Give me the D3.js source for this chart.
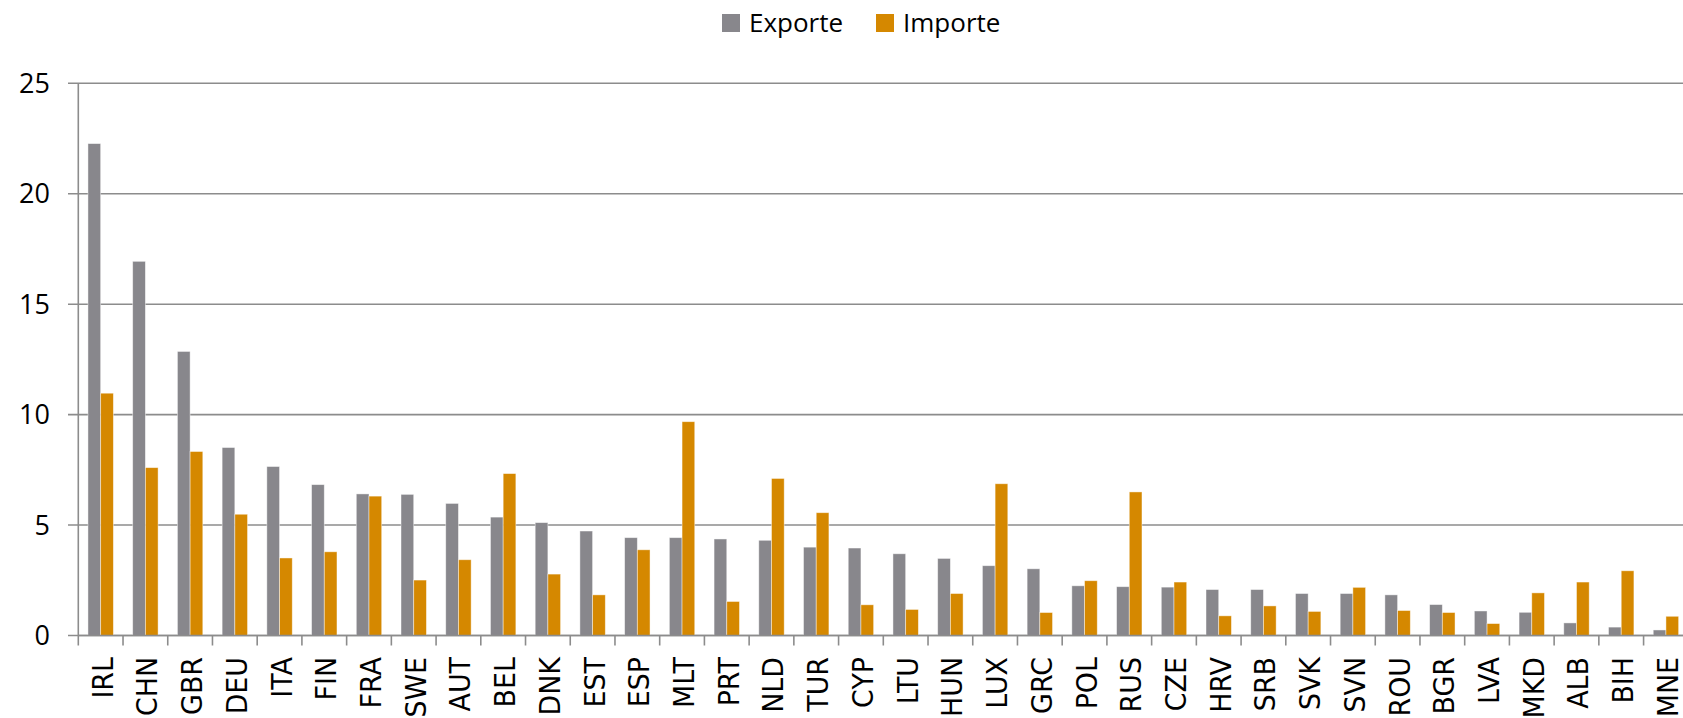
<!DOCTYPE html>
<html>
<head>
<meta charset="utf-8">
<script src="https://cdn.jsdelivr.net/npm/d3@7"></script>
<style>
  body { margin: 0; background: #fff; }
</style>
</head>
<body>
<div class="canvas"></div>
<script>
const countries = ["IRL", "CHN", "GBR", "DEU", "ITA", "FIN", "FRA", "SWE", "AUT", "BEL", "DNK", "EST",
  "ESP", "MLT", "PRT", "NLD", "TUR", "CYP", "LTU", "HUN", "LUX", "GRC", "POL", "RUS",
  "CZE", "HRV", "SRB", "SVK", "SVN", "ROU", "BGR", "LVA", "MKD", "ALB", "BIH", "MNE"];

const exporte = [22.27, 16.94, 12.86, 8.51, 7.65, 6.83, 6.41, 6.39, 5.98, 5.36, 5.11, 4.73,
  4.43, 4.43, 4.37, 4.31, 4.0, 3.96, 3.7, 3.49, 3.16, 3.02, 2.25, 2.21,
  2.19, 2.08, 2.08, 1.9, 1.9, 1.84, 1.4, 1.11, 1.05, 0.57, 0.38, 0.25];

const importe = [10.97, 7.6, 8.33, 5.49, 3.51, 3.79, 6.31, 2.51, 3.43, 7.33, 2.78, 1.84,
  3.88, 9.68, 1.54, 7.11, 5.56, 1.39, 1.18, 1.9, 6.87, 1.04, 2.48, 6.5,
  2.42, 0.89, 1.34, 1.09, 2.18, 1.13, 1.04, 0.54, 1.93, 2.42, 2.93, 0.87];

const seriesNames = ["Exporte", "Importe"];
const yTicks = [0, 5, 10, 15, 20, 25];

const colors = { Exporte: "#88878c", Importe: "#d58800" };

const svg = d3.select(".canvas").append("svg").attr("width", 1683).attr("height", 718);

const x = d3.scaleBand().domain(countries).range([78.3, 1688.3]);
const x1 = d3.scaleBand().domain(seriesNames).range([0, x.bandwidth()]).paddingOuter(0.76);
const y = d3.scaleLinear().domain([0, 25]).range([635.5, 83.3]);

// gridlines + y ticks
svg
  .append("g")
  .selectAll("line")
  .data(yTicks)
  .enter()
  .append("line")
  .attr("x1", 68)
  .attr("x2", 1683)
  .attr("y1", (d) => y(d))
  .attr("y2", (d) => y(d))
  .attr("stroke", "#8c8c8c")
  .attr("stroke-width", 1.6);

svg
  .append("g")
  .selectAll("text")
  .data(yTicks)
  .enter()
  .append("text")
  .attr("x", 50)
  .attr("y", (d) => y(d))
  .attr("dy", "0.36em")
  .attr("text-anchor", "end")
  .attr("fill", "#000")
  .style("font-family", "Open Sans")
  .style("font-size", "27px")
  .text((d) => d);

// bars
const rows = countries.map((c, i) => ({ country: c, Exporte: exporte[i], Importe: importe[i] }));

const groups = svg
  .append("g")
  .selectAll("g")
  .data(rows)
  .enter()
  .append("g")
  .attr("transform", (d) => `translate(${x(d.country)},0)`);

groups
  .selectAll("rect")
  .data((d) => seriesNames.map((s) => ({ key: s, value: d[s] })))
  .enter()
  .append("rect")
  .attr("x", (d) => x1(d.key))
  .attr("width", x1.bandwidth())
  .attr("y", (d) => y(d.value))
  .attr("height", (d) => y(0) - y(d.value))
  .attr("fill", (d) => colors[d.key])
  .attr("stroke", "rgba(255,255,255,0.55)")
  .attr("stroke-width", 0.8);

// axes lines
svg
  .append("line")
  .attr("x1", 78.3)
  .attr("x2", 78.3)
  .attr("y1", y(25))
  .attr("y2", y(0))
  .attr("stroke", "#8c8c8c")
  .attr("stroke-width", 1.6);

svg
  .append("line")
  .attr("x1", 78.3)
  .attr("x2", 1683)
  .attr("y1", y(0))
  .attr("y2", y(0))
  .attr("stroke", "#8c8c8c")
  .attr("stroke-width", 1.6);

// x tick marks at category boundaries
svg
  .append("g")
  .selectAll("line")
  .data(countries)
  .enter()
  .append("line")
  .attr("x1", (d) => x(d))
  .attr("x2", (d) => x(d))
  .attr("y1", y(0))
  .attr("y2", y(0) + 10)
  .attr("stroke", "#8c8c8c")
  .attr("stroke-width", 1.6);

// x labels, rotated
svg
  .append("g")
  .selectAll("text")
  .data(countries)
  .enter()
  .append("text")
  .attr("transform", (d) => `translate(${x(d) + x.bandwidth() / 2 + 12},657) rotate(-90) scale(0.96,1)`)
  .attr("text-anchor", "end")
  .attr("fill", "#000")
  .style("font-family", "DejaVu Sans")
  .style("font-size", "28px")
  .text((d) => d);

// legend
const legend = svg.append("g");
const legendX = { Exporte: 722, Importe: 876 };

legend
  .selectAll("rect")
  .data(seriesNames)
  .enter()
  .append("rect")
  .attr("x", (d) => legendX[d])
  .attr("y", 14)
  .attr("width", 18)
  .attr("height", 18)
  .attr("fill", (d) => colors[d]);

legend
  .selectAll("text")
  .data(seriesNames)
  .enter()
  .append("text")
  .attr("x", (d) => legendX[d] + 27)
  .attr("y", 32)
  .attr("fill", "#000")
  .style("font-family", "Open Sans")
  .style("font-size", "26px")
  .text((d) => d);
</script>
</body>
</html>
